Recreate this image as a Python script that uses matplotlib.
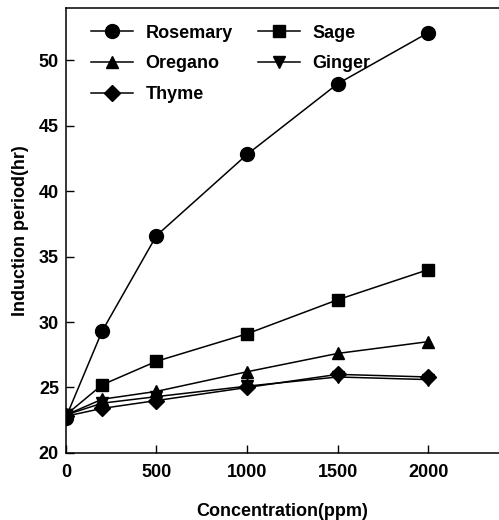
import matplotlib
matplotlib.use("Agg")
import matplotlib.pyplot as plt

plt.rcParams['font.family'] = ['Liberation Sans', 'DejaVu Sans']

conc = [0, 200, 500, 1000, 1500, 2000]
rosemary = [22.7, 29.3, 36.6, 42.8, 48.2, 52.1]
sage = [22.9, 25.2, 27.0, 29.1, 31.7, 34.0]
oregano = [22.9, 24.1, 24.7, 26.2, 27.6, 28.5]
ginger = [22.9, 23.8, 24.3, 25.1, 25.8, 25.6]
thyme = [22.8, 23.4, 24.0, 25.0, 26.0, 25.8]

xticks = [0, 500, 1000, 1500, 2000]
yticks = [20, 25, 30, 35, 40, 45, 50]

fig = plt.figure(figsize=(4.99, 5.2), dpi=100)
ax = fig.add_axes([0.132, 0.129, 0.868, 0.856])

kw = dict(color='black', lw=1.1)
h1, = ax.plot(conc, rosemary, marker='o', ms=10, label='Rosemary', **kw)
h2, = ax.plot(conc, oregano, marker='^', ms=9, label='Oregano', **kw)
h3, = ax.plot(conc, thyme, marker='D', ms=8, label='Thyme', **kw)
h4, = ax.plot(conc, sage, marker='s', ms=8.5, label='Sage', **kw)
h5, = ax.plot(conc, ginger, marker='v', ms=9, label='Ginger', **kw)

ax.set_xlim(0, 2390)
ax.set_ylim(20, 54)
ax.set_xticks(xticks)
ax.set_yticks(yticks)
ax.tick_params(direction='in', length=6, width=1, labelsize=13)
ax.tick_params(axis='x', pad=8)
ax.tick_params(axis='y', pad=5)
for lab in ax.get_xticklabels() + ax.get_yticklabels():
    lab.set_fontweight('bold')
ax.spines['right'].set_visible(False)
for s in ['left', 'bottom', 'top']:
    ax.spines[s].set_linewidth(1.1)

ax.set_xlabel('Concentration(ppm)', fontsize=13, fontweight='bold', labelpad=16)
ax.set_ylabel('Induction period(hr)', fontsize=13, fontweight='bold', labelpad=7)

leg = ax.legend(handles=[h1, h2, h3, h4, h5], ncol=2, loc='upper left',
                frameon=False, prop={'size': 13, 'weight': 'bold'},
                handlelength=2.3, handletextpad=0.7, columnspacing=1.4,
                labelspacing=0.75, borderaxespad=0.0,
                bbox_to_anchor=(0.042, 0.978))

fig.savefig('out.png', dpi=100)
